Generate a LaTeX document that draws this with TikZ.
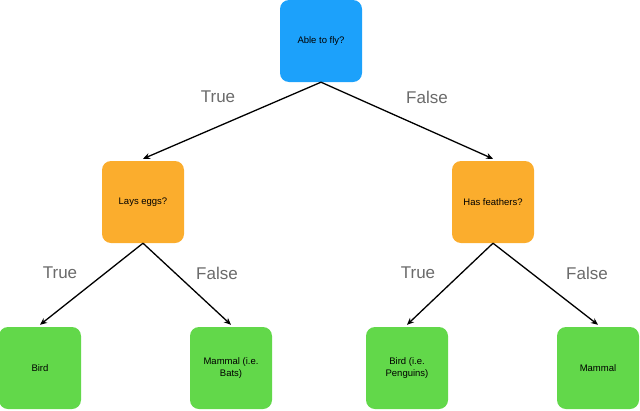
\documentclass[tikz,border=0pt]{standalone}
\usepackage{fontspec}
\setmainfont{Liberation Sans}
\usetikzlibrary{arrows.meta}
\definecolor{cblue}{HTML}{1CA1FB}
\definecolor{corange}{HTML}{FBAD2D}
\definecolor{cgreen}{HTML}{62D84A}
\definecolor{lab}{HTML}{6A6A6A}
\begin{document}
\begin{tikzpicture}[x=1pt,y=-1pt,
  box/.style={rounded corners=9pt,minimum width=82pt,minimum height=82pt,align=center,font=\fontsize{9.5}{11.5}\selectfont,inner sep=2pt},
  edge/.style={line width=1.3pt,-{Stealth[length=7pt,width=6pt]}},
  lbl/.style={text=lab,font=\fontsize{17}{20}\selectfont}]
\useasboundingbox (0,0) rectangle (640,410);
\node[box,fill=cblue] (root) at (321,41) {Able to fly?};
\node[box,fill=corange] (eggs) at (143,202) {Lays eggs?};
\node[box,fill=corange] (feat) at (493,202) {Has feathers?};
\node[box,fill=cgreen] (bird) at (40,368) {Bird};
\node[box,fill=cgreen] (bats) at (231,368) {Mammal (i.e.\\Bats)};
\node[box,fill=cgreen] (peng) at (407,368) {Bird (i.e.\\Penguins)};
\node[box,fill=cgreen] (mam) at (598,368) {Mammal};
\draw[edge] (root.south) -- ([yshift=2pt]eggs.north);
\draw[edge] (root.south) -- ([yshift=2pt]feat.north);
\draw[edge] (eggs.south) -- ([yshift=2pt]bird.north);
\draw[edge] (eggs.south) -- ([yshift=2pt]bats.north);
\draw[edge] (feat.south) -- ([yshift=2pt]peng.north);
\draw[edge] (feat.south) -- ([yshift=2pt]mam.north);
\node[lbl] (t1) at (218,97) {True};
\node[lbl] (f1) at (427,97) {False};
\node[lbl] (t2) at (60,273) {True};
\node[lbl] (f2) at (217,273) {False};
\node[lbl] (t3) at (418,273) {True};
\node[lbl] (f3) at (587,273) {False};
\end{tikzpicture}
\end{document}
